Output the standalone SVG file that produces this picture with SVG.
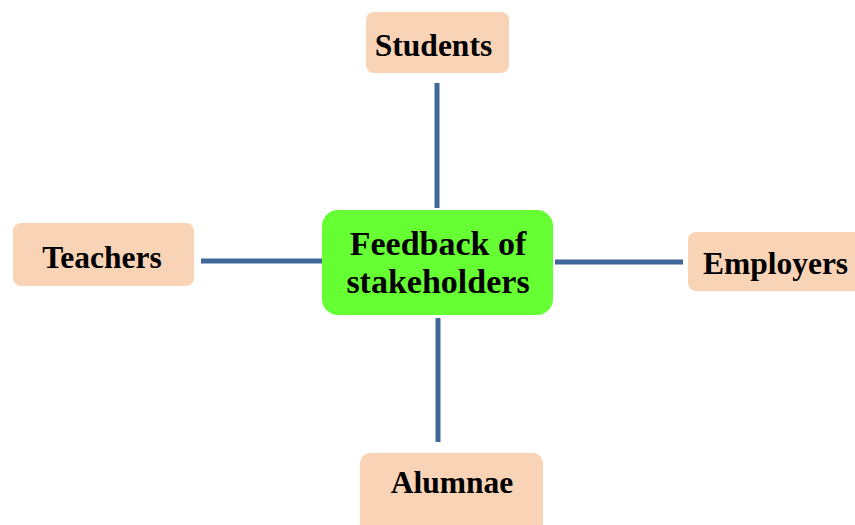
<svg xmlns="http://www.w3.org/2000/svg" width="855" height="525" viewBox="0 0 855 525">
<style>
.n{fill:#f9d3b5}
.c{fill:#66ff33}
.t{font-family:"Liberation Serif","Times New Roman",serif;font-weight:bold;fill:#000;text-anchor:middle}
.s{font-size:31.5px}
.b{font-size:34px}
.e{stroke:#3f6797;stroke-width:5;fill:none}
</style>
<rect width="855" height="525" fill="#fff"/>
<g id="connectors">
<line class="e" x1="437" y1="83" x2="437" y2="208"/>
<line class="e" x1="438" y1="318" x2="438" y2="442"/>
<line class="e" x1="201" y1="261" x2="322" y2="261"/>
<line class="e" x1="555" y1="262" x2="683" y2="262"/>
</g>
<g id="center">
<rect class="c" x="322" y="210" width="231" height="105" rx="16"/>
<text class="t b" x="438" y="255">Feedback of</text>
<text class="t b" x="438" y="293">stakeholders</text>
</g>
<g id="students">
<rect class="n" x="366" y="12" width="143" height="61" rx="8"/>
<text class="t s" x="433.5" y="56">Students</text>
</g>
<g id="teachers">
<rect class="n" x="13" y="223" width="181" height="63" rx="8"/>
<text class="t s" x="102" y="268">Teachers</text>
</g>
<g id="employers">
<rect class="n" x="688" y="232" width="180" height="59" rx="8"/>
<text class="t s" x="775.5" y="274">Employers</text>
</g>
<g id="alumnae">
<rect class="n" x="360" y="453" width="183" height="90" rx="10"/>
<text class="t s" x="452" y="493">Alumnae</text>
</g>
</svg>
